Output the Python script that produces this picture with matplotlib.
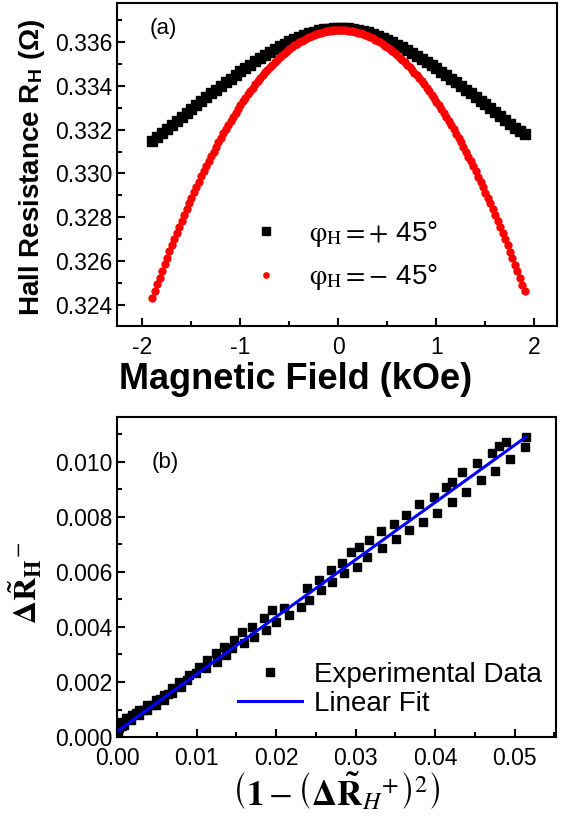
import matplotlib
matplotlib.use('Agg')
import matplotlib.pyplot as plt
import numpy as np
from matplotlib.ticker import MultipleLocator

plt.rcParams['font.family'] = ['Liberation Sans', 'DejaVu Sans']
plt.rcParams['mathtext.fontset'] = 'stix'
plt.rcParams['axes.unicode_minus'] = False

# (a) Hall resistance vs field
field_black = np.linspace(-1.9, 1.9, 77)  # kOe, 0.05 kOe step
rh_black = [
    0.33148, 0.33167, 0.33186, 0.33204, 0.33223, 0.33241, 0.33259, 0.33277, 0.33295, 0.33313,
    0.33331, 0.33348, 0.33366, 0.33383, 0.33400, 0.33417, 0.33433, 0.33450, 0.33466, 0.33481,
    0.33497, 0.33512, 0.33527, 0.33541, 0.33555, 0.33568, 0.33580, 0.33592, 0.33604, 0.33614,
    0.33624, 0.33632, 0.33640, 0.33647, 0.33653, 0.33657, 0.33661, 0.33663, 0.33664, 0.33664,
    0.33662, 0.33659, 0.33656, 0.33650, 0.33644, 0.33637, 0.33629, 0.33620, 0.33610, 0.33600,
    0.33588, 0.33576, 0.33564, 0.33551, 0.33537, 0.33523, 0.33509, 0.33494, 0.33479, 0.33464,
    0.33448, 0.33432, 0.33416, 0.33399, 0.33383, 0.33366, 0.33349, 0.33332, 0.33315, 0.33298,
    0.33280, 0.33263, 0.33245, 0.33227, 0.33209, 0.33192, 0.33178,
]
field_red = np.linspace(-1.9, 1.9, 153)  # kOe, 0.025 kOe step
rh_red = [
    0.32430, 0.32462, 0.32494, 0.32525, 0.32555, 0.32585, 0.32615, 0.32644, 0.32673, 0.32702,
    0.32730, 0.32757, 0.32785, 0.32811, 0.32838, 0.32864, 0.32889, 0.32914, 0.32939, 0.32963,
    0.32987, 0.33011, 0.33034, 0.33056, 0.33078, 0.33100, 0.33122, 0.33142, 0.33163, 0.33183,
    0.33203, 0.33222, 0.33241, 0.33259, 0.33277, 0.33295, 0.33312, 0.33329, 0.33345, 0.33361,
    0.33376, 0.33392, 0.33406, 0.33420, 0.33434, 0.33448, 0.33461, 0.33473, 0.33485, 0.33497,
    0.33508, 0.33519, 0.33530, 0.33540, 0.33549, 0.33558, 0.33567, 0.33576, 0.33584, 0.33591,
    0.33598, 0.33605, 0.33611, 0.33617, 0.33622, 0.33627, 0.33632, 0.33636, 0.33640, 0.33643,
    0.33646, 0.33649, 0.33651, 0.33653, 0.33654, 0.33655, 0.33655, 0.33655, 0.33655, 0.33654,
    0.33652, 0.33651, 0.33649, 0.33646, 0.33643, 0.33640, 0.33636, 0.33632, 0.33627, 0.33622,
    0.33617, 0.33611, 0.33605, 0.33598, 0.33591, 0.33583, 0.33575, 0.33567, 0.33558, 0.33549,
    0.33539, 0.33529, 0.33519, 0.33508, 0.33496, 0.33485, 0.33473, 0.33460, 0.33447, 0.33434,
    0.33420, 0.33406, 0.33391, 0.33376, 0.33360, 0.33344, 0.33328, 0.33311, 0.33294, 0.33276,
    0.33258, 0.33240, 0.33221, 0.33202, 0.33182, 0.33162, 0.33142, 0.33121, 0.33099, 0.33077,
    0.33055, 0.33033, 0.33010, 0.32986, 0.32962, 0.32938, 0.32913, 0.32888, 0.32863, 0.32837,
    0.32810, 0.32783, 0.32756, 0.32729, 0.32700, 0.32672, 0.32643, 0.32614, 0.32584, 0.32554,
    0.32523, 0.32492, 0.32465,
]

# (b) normalised data and linear fit
exp_x = [
    0.00010, 0.00025, 0.00046, 0.00067, 0.00088, 0.00109, 0.00140, 0.00172, 0.00193, 0.00235,
    0.00277, 0.00277, 0.00330, 0.00381, 0.00381, 0.00435, 0.00487, 0.00487, 0.00540, 0.00591,
    0.00591, 0.00645, 0.00696, 0.00696, 0.00780, 0.00801, 0.00885, 0.00906,
    0.00990, 0.01031, 0.01115, 0.01136, 0.01241, 0.01262, 0.01346, 0.01367, 0.01451, 0.01472,
    0.01576, 0.01597, 0.01702, 0.01723, 0.01849, 0.01870, 0.01954, 0.01996, 0.02101, 0.02164,
    0.02310, 0.02394, 0.02415, 0.02541, 0.02562, 0.02688, 0.02708, 0.02834, 0.02855, 0.02939,
    0.03023, 0.03044, 0.03149, 0.03170, 0.03317, 0.03338, 0.03484, 0.03505, 0.03631, 0.03673,
    0.03799, 0.03849, 0.03987, 0.04029, 0.04134, 0.04210, 0.04218, 0.04344, 0.04386, 0.04532,
    0.04575, 0.04713, 0.04755, 0.04805, 0.04897, 0.04940, 0.05132, 0.05141,
]
exp_y = [
    0.00022, 0.00032, 0.00056, 0.00040, 0.00044, 0.00068, 0.00070, 0.00062, 0.00080, 0.00088,
    0.00098, 0.00080, 0.00100, 0.00116, 0.00098, 0.00118, 0.00135, 0.00116, 0.00138, 0.00153,
    0.00135, 0.00155, 0.00177, 0.00159, 0.00201, 0.00183, 0.00207, 0.00225,
    0.00232, 0.00256, 0.00250, 0.00280, 0.00304, 0.00274, 0.00328, 0.00298, 0.00323, 0.00353,
    0.00383, 0.00341, 0.00401, 0.00365, 0.00432, 0.00389, 0.00462, 0.00419, 0.00468, 0.00444,
    0.00474, 0.00541, 0.00498, 0.00571, 0.00535, 0.00607, 0.00565, 0.00632, 0.00595, 0.00674,
    0.00619, 0.00692, 0.00656, 0.00716, 0.00747, 0.00686, 0.00775, 0.00719, 0.00807, 0.00753,
    0.00847, 0.00783, 0.00874, 0.00816, 0.00908, 0.00856, 0.00928, 0.00965, 0.00892, 0.00997,
    0.00935, 0.01032, 0.00968, 0.01056, 0.01074, 0.01010, 0.01053, 0.01090,
]
fit_x = [0.0, 0.0514]
fit_y = [0.0002, 0.0109]

fig = plt.figure(figsize=(5.66, 8.19), dpi=100)
ax1 = fig.add_axes([0.2067, 0.6020, 0.7774, 0.3944])
ax2 = fig.add_axes([0.2067, 0.1001, 0.7756, 0.3907])

# top panel
ax1.plot(field_black, rh_black, 's', color='black', ms=6.5, mec='black',
         label=r'$\mathrm{\varphi}_{\mathrm{H}} = +$ 45°')
ax1.plot(field_red, rh_red, 'o', color='red', ms=6.0, mec='red', mew=0,
         label=r'$\mathrm{\varphi}_{\mathrm{H}} = -$ 45°')
ax1.set_xlim(-2.26, 2.23)
ax1.set_ylim(0.32304, 0.33778)
ax1.xaxis.set_major_locator(MultipleLocator(1))
ax1.xaxis.set_minor_locator(MultipleLocator(0.5))
ax1.yaxis.set_major_locator(MultipleLocator(0.002))
ax1.yaxis.set_minor_locator(MultipleLocator(0.001))
ax1.yaxis.set_major_formatter(plt.FormatStrFormatter('%.3f'))
ax1.set_xlabel('Magnetic Field (kOe)', fontsize=26, fontweight='bold')
ax1.xaxis.set_label_coords(0.405, -0.112)
ax1.set_ylabel(r'Hall Resistance R$_\mathregular{H}$ (Ω)', fontsize=20, fontweight='bold')
ax1.yaxis.set_label_coords(-0.16, 0.49)
ax1.text(0.075, 0.905, '(a)', transform=ax1.transAxes, fontsize=16)
ax1.legend(loc='upper left', bbox_to_anchor=(0.244, 0.41), frameon=False, fontsize=20,
           handletextpad=0.95, labelspacing=0.5, handlelength=1.2, markerscale=0.8)

# bottom panel
ax2.plot(exp_x, exp_y, 's', color='black', ms=5.4, label='Experimental Data')
ax2.plot(fit_x, fit_y, '-', color='blue', lw=2.2, label='Linear Fit')
ax2.set_xlim(0, 0.0552)
ax2.set_ylim(0, 0.01163)
ax2.xaxis.set_major_locator(MultipleLocator(0.01))
ax2.xaxis.set_minor_locator(MultipleLocator(0.005))
ax2.yaxis.set_major_locator(MultipleLocator(0.002))
ax2.yaxis.set_minor_locator(MultipleLocator(0.001))
ax2.xaxis.set_major_formatter(plt.FormatStrFormatter('%.2f'))
ax2.yaxis.set_major_formatter(plt.FormatStrFormatter('%.3f'))
ax2.set_xlabel(r'$\left(\mathbf{1} - \left(\mathbf{\Delta\tilde{R}}_{\mathit{H}}{}^{+}\right)^{2}\right)$',
               fontsize=25)
ax2.xaxis.set_label_coords(0.50, -0.105)
ax2.set_ylabel(r'$\mathbf{\Delta\tilde{R}}_{\mathbf{H}}{}^{-}$', fontsize=23)
ax2.yaxis.set_label_coords(-0.165, 0.48)
ax2.text(0.08, 0.84, '(b)', transform=ax2.transAxes, fontsize=16)
ax2.legend(loc='lower right', bbox_to_anchor=(1.0, 0.02), frameon=False, fontsize=20,
           handletextpad=0.43, labelspacing=0.1, handlelength=2.3, borderaxespad=0.1)

for ax in (ax1, ax2):
    for s in ax.spines.values():
        s.set_linewidth(1.5)
    ax.tick_params(which='both', direction='in', top=False, right=False, labelsize=16.5, width=1.5)
    ax.tick_params(which='major', length=6)
    ax.tick_params(which='minor', length=3.5)
    ax.tick_params(axis='x', pad=7)

fig.savefig('out.png', dpi=100)
